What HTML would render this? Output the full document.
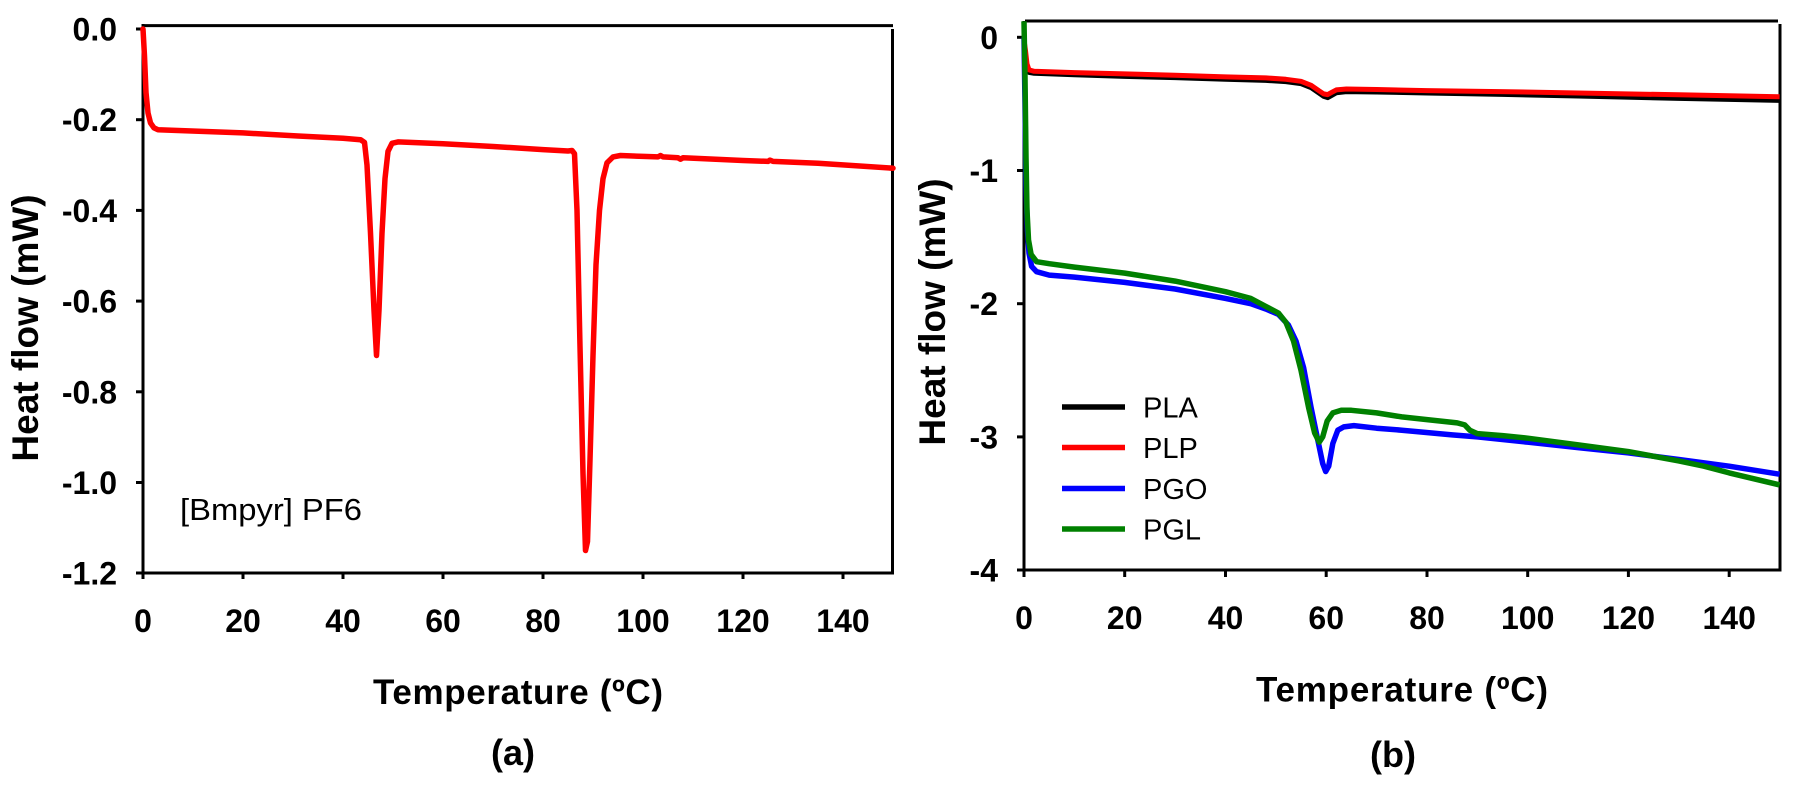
<!DOCTYPE html>
<html>
<head>
<meta charset="utf-8">
<style>
  html,body{margin:0;padding:0;background:#fff;}
  svg{display:block;}
  text{font-family:"Liberation Sans",Arial,sans-serif;fill:#000;}
  .tk{font-size:32px;font-weight:bold;}
  .ttl{font-size:35px;font-weight:bold;}
  .lg{font-size:29px;}
</style>
</head>
<body>
<svg width="1793" height="786" viewBox="0 0 1793 786" xmlns="http://www.w3.org/2000/svg">
  <rect width="1793" height="786" fill="#fff"/>

  <!-- ================= LEFT PANEL (a) ================= -->
  <g stroke="#000" stroke-width="3" fill="none" stroke-linecap="butt">
    <line x1="143" y1="25.6" x2="893" y2="25.6"/>
    <line x1="892.5" y1="29" x2="892.5" y2="574.5"/>
    <line x1="143" y1="24" x2="143" y2="574.5"/>
    <line x1="141.5" y1="573" x2="894" y2="573"/>
    <line x1="136" y1="29" x2="143" y2="29"/>
    <line x1="136" y1="119.7" x2="143" y2="119.7"/>
    <line x1="136" y1="210.4" x2="143" y2="210.4"/>
    <line x1="136" y1="301.1" x2="143" y2="301.1"/>
    <line x1="136" y1="391.8" x2="143" y2="391.8"/>
    <line x1="136" y1="482.5" x2="143" y2="482.5"/>
    <line x1="136" y1="573" x2="143" y2="573"/>
    <line x1="143" y1="573" x2="143" y2="579"/>
    <line x1="243" y1="573" x2="243" y2="579"/>
    <line x1="343" y1="573" x2="343" y2="579"/>
    <line x1="443" y1="573" x2="443" y2="579"/>
    <line x1="543" y1="573" x2="543" y2="579"/>
    <line x1="643" y1="573" x2="643" y2="579"/>
    <line x1="743" y1="573" x2="743" y2="579"/>
    <line x1="843" y1="573" x2="843" y2="579"/>
  </g>

  <g text-anchor="end">
    <text class="tk" x="117" y="40.5">0.0</text>
    <text class="tk" x="117" y="131.2">-0.2</text>
    <text class="tk" x="117" y="221.9">-0.4</text>
    <text class="tk" x="117" y="312.6">-0.6</text>
    <text class="tk" x="117" y="403.3">-0.8</text>
    <text class="tk" x="117" y="494">-1.0</text>
    <text class="tk" x="117" y="584.7">-1.2</text>
  </g>
  <g text-anchor="middle">
    <text class="tk" x="143" y="632">0</text>
    <text class="tk" x="243" y="632">20</text>
    <text class="tk" x="343" y="632">40</text>
    <text class="tk" x="443" y="632">60</text>
    <text class="tk" x="543" y="632">80</text>
    <text class="tk" x="643" y="632">100</text>
    <text class="tk" x="743" y="632">120</text>
    <text class="tk" x="843" y="632">140</text>
  </g>

  <text class="ttl" x="373" y="704" textLength="290" lengthAdjust="spacing">Temperature (ºC)</text>
  <text class="ttl" x="513" y="765" text-anchor="middle" style="font-size:36px">(a)</text>
  <text class="ttl" transform="translate(38,328) rotate(-90)" text-anchor="middle" style="font-size:37px">Heat flow (mW)</text>

  <text x="180" y="520" style="font-size:31px" textLength="182" lengthAdjust="spacingAndGlyphs">[Bmpyr] PF6</text>

  <polyline fill="none" stroke="#ff0000" stroke-width="5.5" stroke-linejoin="round" stroke-linecap="round"
    points="143,29 144.5,56.2 146,92.5 148,112.9 150.5,122.9 154,127.9 158,129.7 168,130.1 243,132.9 298,136 343,138.3 360.5,139.7 364.5,142.4 367,165.1 370.5,233.1 374,310.2 376.5,355.5 379,310.2 382,233.1 385,178.7 388,151.4 392,143.3 398,141.9 443,143.7 493,146.5 543,149.6 568,151 572,150.5 574.5,153.7 577,210.4 580,346.5 583,473.4 585.5,550.5 587.5,541.5 590,459.8 593,355.5 596,264.8 599.5,210.4 603,178.7 607,162.8 613,156.9 620.5,155.5 643,156.4 658,156.9 660.5,155.5 663,156.9 678,157.8 680.5,159.2 683,157.8 743,160.5 768,161.4 770,160.1 773,161.4 818,163.2 893,168.2"/>

  <!-- ================= RIGHT PANEL (b) ================= -->
  <g stroke="#000" stroke-width="3" fill="none">
    <line x1="1025" y1="21" x2="1778" y2="21"/>
    <line x1="1780" y1="24" x2="1780" y2="571.5"/>
    <line x1="1024" y1="21" x2="1024" y2="571.5"/>
    <line x1="1022.5" y1="570" x2="1781.5" y2="570"/>
    <line x1="1017" y1="37.3" x2="1024" y2="37.3"/>
    <line x1="1017" y1="170.5" x2="1024" y2="170.5"/>
    <line x1="1017" y1="303.7" x2="1024" y2="303.7"/>
    <line x1="1017" y1="436.9" x2="1024" y2="436.9"/>
    <line x1="1017" y1="570" x2="1024" y2="570"/>
    <line x1="1024" y1="570" x2="1024" y2="577"/>
    <line x1="1124.7" y1="570" x2="1124.7" y2="577"/>
    <line x1="1225.5" y1="570" x2="1225.5" y2="577"/>
    <line x1="1326.2" y1="570" x2="1326.2" y2="577"/>
    <line x1="1427" y1="570" x2="1427" y2="577"/>
    <line x1="1527.7" y1="570" x2="1527.7" y2="577"/>
    <line x1="1628.4" y1="570" x2="1628.4" y2="577"/>
    <line x1="1729.2" y1="570" x2="1729.2" y2="577"/>
  </g>

  <g text-anchor="end">
    <text class="tk" x="998" y="48.8">0</text>
    <text class="tk" x="998" y="182">-1</text>
    <text class="tk" x="998" y="315.2">-2</text>
    <text class="tk" x="998" y="448.4">-3</text>
    <text class="tk" x="998" y="581.5">-4</text>
  </g>
  <g text-anchor="middle">
    <text class="tk" x="1024" y="629">0</text>
    <text class="tk" x="1124.7" y="629">20</text>
    <text class="tk" x="1225.5" y="629">40</text>
    <text class="tk" x="1326.2" y="629">60</text>
    <text class="tk" x="1427" y="629">80</text>
    <text class="tk" x="1527.7" y="629">100</text>
    <text class="tk" x="1628.4" y="629">120</text>
    <text class="tk" x="1729.2" y="629">140</text>
  </g>

  <text class="ttl" x="1256" y="701.5" textLength="292" lengthAdjust="spacing">Temperature (ºC)</text>
  <text class="ttl" x="1393" y="767" text-anchor="middle" style="font-size:36px">(b)</text>
  <text class="ttl" transform="translate(945,312) rotate(-90)" text-anchor="middle" style="font-size:37px">Heat flow (mW)</text>

  <!-- PLA black -->
  <polyline fill="none" stroke="#000" stroke-width="4.5" stroke-linejoin="round"
    points="1024,40 1025.5,53.3 1027,66.6 1029,72.6 1034.1,73.5 1074.4,75 1124.7,76.6 1175.1,77.9 1225.5,79.5 1265.8,80.6 1285.9,81.9 1301,83.9 1311.1,87.9 1318.7,93.2 1323.7,96.6 1327.7,97.9 1331.3,95.9 1336.3,93 1346.4,91.9 1376.6,92.3 1427,93.2 1502.5,94.6 1578.1,96.3 1678.8,98.6 1779.6,100.6"/>
  <!-- PLP red -->
  <polyline fill="none" stroke="#ff0000" stroke-width="5" stroke-linejoin="round"
    points="1024,40 1025.5,50.6 1027,63.9 1029,69.9 1034.1,71.3 1074.4,72.6 1124.7,73.9 1175.1,75.3 1225.5,76.9 1265.8,77.9 1285.9,79.3 1301,81.3 1311.1,85.3 1318.7,90.6 1323.7,93.9 1327.7,94.6 1331.3,92.6 1336.3,89.9 1346.4,89 1376.6,89.5 1427,90.6 1500,91.6 1578.1,93 1678.8,94.8 1779.6,96.7"/>
  <!-- PGO blue -->
  <polyline fill="none" stroke="#0000ff" stroke-width="5.5" stroke-linejoin="round"
    points="1024,37.3 1025,103.9 1026,183.8 1027.5,230.4 1029,253.1 1031.6,266.4 1036.6,271.7 1049.2,275.1 1074.4,277.1 1124.7,282.4 1175.1,289 1225.5,298.4 1250.7,303.7 1265.8,309 1278.4,314.4 1288.4,325 1296,341 1303.6,367.6 1311.1,407.6 1317.7,439.6 1322.7,463.5 1325.7,471.5 1328.7,466.2 1332.8,443.6 1337.8,430.2 1343.8,426.9 1353.9,425.6 1376.6,428.2 1401.8,430.2 1416.9,431.6 1452.1,434.9 1477.3,436.9 1527.7,442.2 1578.1,447.6 1628.4,452.9 1678.8,459.5 1729.2,466.2 1779.6,474.2"/>
  <!-- PGL green -->
  <polyline fill="none" stroke="#008000" stroke-width="5.5" stroke-linejoin="round"
    points="1024,21.3 1025,77.3 1026,157.2 1027,210.5 1028.5,239.8 1031.1,254.4 1036.6,261.7 1049.2,263.7 1074.4,267.1 1124.7,273.1 1175.1,281.1 1225.5,291.7 1250.7,298.4 1265.8,306.4 1278.4,313 1285.9,322.3 1293.5,341 1301,370.3 1308.6,407.6 1314.6,432.9 1319.2,442.2 1322.7,436.9 1327.2,420.9 1332.8,412.9 1341.3,410.3 1351.4,410.3 1376.6,412.9 1401.8,416.9 1427,419.6 1457.2,422.9 1464.7,424.9 1469.8,430.2 1477.3,433.6 1502.5,435.6 1527.7,438.2 1578.1,444.9 1628.4,451.6 1678.8,460.9 1704,466.2 1729.2,472.9 1779.6,484.9"/>

  <!-- Legend -->
  <g stroke-width="5.5">
    <line x1="1062" y1="407" x2="1125" y2="407" stroke="#000"/>
    <line x1="1062" y1="447.5" x2="1125" y2="447.5" stroke="#ff0000"/>
    <line x1="1062" y1="488.5" x2="1125" y2="488.5" stroke="#0000ff"/>
    <line x1="1062" y1="529" x2="1125" y2="529" stroke="#008000"/>
  </g>
  <text class="lg" x="1143" y="417.5">PLA</text>
  <text class="lg" x="1143" y="458">PLP</text>
  <text class="lg" x="1143" y="499">PGO</text>
  <text class="lg" x="1143" y="539.5">PGL</text>
</svg>
</body>
</html>
